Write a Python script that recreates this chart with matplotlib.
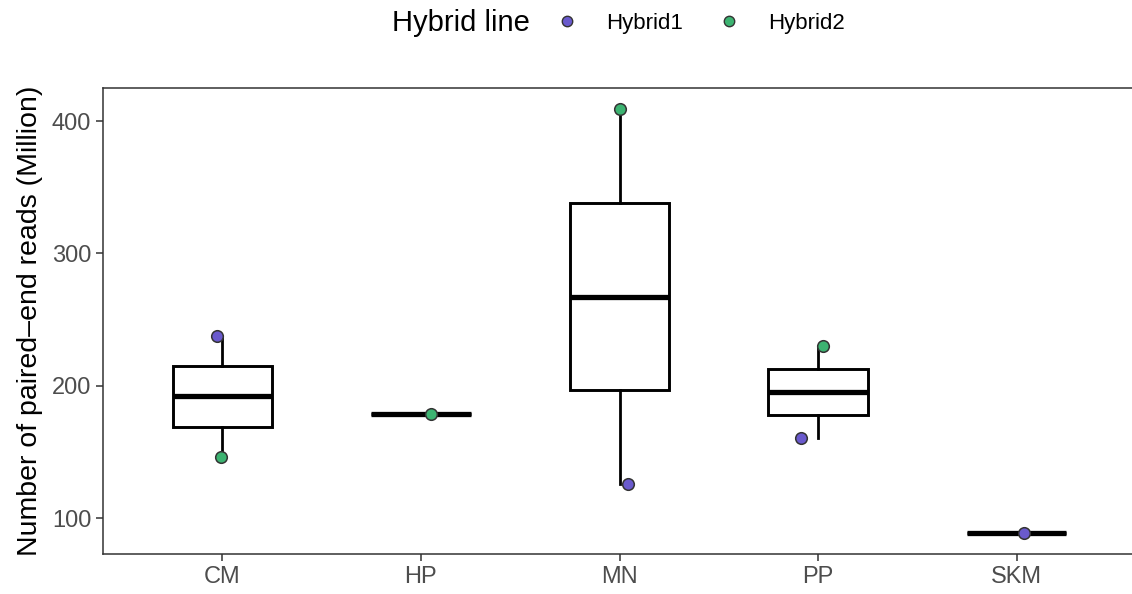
import numpy as np
from matplotlib import pyplot as plt
from matplotlib.lines import Line2D

plt.rcParams['font.family'] = ['Liberation Sans', 'DejaVu Sans']

# reads per tissue (million), one sample per hybrid line, nan = no sample
tissues = ["CM", "HP", "MN", "PP", "SKM"]
hybrid1 = [238, np.nan, 126, 161, 89]
hybrid2 = [146, 179, 409, 230, np.nan]
# horizontal jitter of the points
jitter1 = [-0.027, 0.0, 0.045, -0.084, 0.036]
jitter2 = [-0.005, 0.05, 0.0, 0.024, 0.0]

col1 = "#6A5ACD"
col2 = "#3CB371"

fig = plt.figure(figsize=(11.32, 5.94), dpi=100)
ax = fig.add_axes([103/1132, 1 - 554/594, (1136 - 103)/1132, (554 - 88)/594])

# box data per tissue
groups = []
for a, b in zip(hybrid1, hybrid2):
  groups.append([v for v in (a, b) if not np.isnan(v)])

pos = np.arange(len(tissues))
ax.boxplot(groups, positions=pos, widths=0.5, whis=(0, 100), showfliers=False,
           showcaps=False, patch_artist=True,
           boxprops=dict(facecolor="white", edgecolor="black", linewidth=2.1),
           whiskerprops=dict(color="black", linewidth=2.0),
           medianprops=dict(color="black", linewidth=3.8, solid_capstyle="butt"))

ax.scatter(pos + np.array(jitter1), hybrid1, s=70, color=col1, edgecolor="#333333",
           linewidth=1.1, zorder=5)
ax.scatter(pos + np.array(jitter2), hybrid2, s=70, color=col2, edgecolor="#333333",
           linewidth=1.1, zorder=5)

ax.set_xlim(-0.6, 4.6)
ax.set_ylim(73, 425)
ax.set_xticks(pos)
ax.set_xticklabels(tissues)
ax.set_yticks([100, 200, 300, 400])
ax.tick_params(axis="both", labelsize=17, labelcolor="#4D4D4D", color="#333333",
               length=5, width=1.1)
for s in ax.spines.values():
  s.set_color("#333333")
  s.set_linewidth(1.1)
ax.set_ylabel("Number of paired\u2013end reads (Million)", fontsize=20.5, labelpad=6)

# legend on top, title on the left like ggplot
fig.text(392/1132, 1 - 23/594, "Hybrid line", fontsize=21, va="center", ha="left")
handles = [Line2D([], [], marker="o", linestyle="none", markersize=7.5, markerfacecolor=col1,
                  markeredgecolor="#333333", markeredgewidth=1.0),
           Line2D([], [], marker="o", linestyle="none", markersize=7.5, markerfacecolor=col2,
                  markeredgecolor="#333333", markeredgewidth=1.0)]
fig.legend(handles, ["Hybrid1", "Hybrid2"], ncol=2, frameon=False, fontsize=16,
           loc="center left", bbox_to_anchor=(543/1132, 1 - 23/594),
           handletextpad=1.05, columnspacing=1.35, handlelength=1.4, borderaxespad=0)

fig.savefig("out.png", dpi=100)
